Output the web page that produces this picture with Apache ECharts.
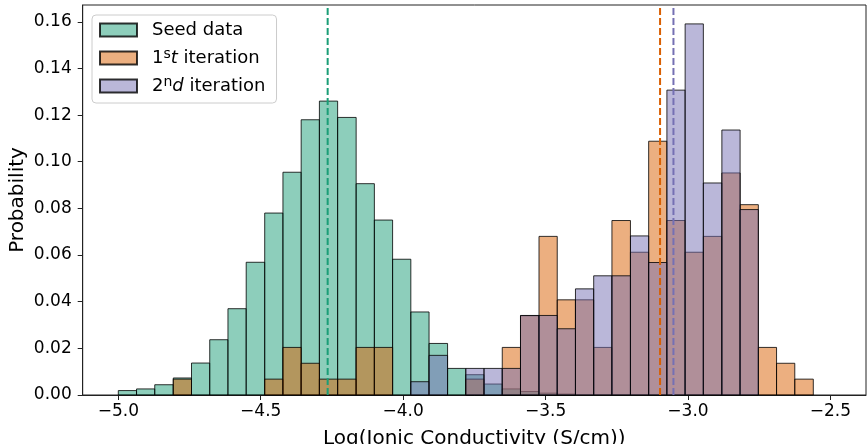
<!DOCTYPE html>
<html>
<head>
<meta charset="utf-8">
<title>Ionic conductivity histogram</title>
<script src="https://cdn.jsdelivr.net/npm/echarts@6/dist/echarts.min.js"></script>
<style>
html, body { margin: 0; padding: 0; background: #fff; }
#chart { width: 867px; height: 444px; }
</style>
</head>
<body>
<div id="chart"></div>
<script>
// shared bin edges (log S/cm), 38 bins
var binEdges = [
    -5.000, -4.936, -4.872, -4.807, -4.743, -4.679, -4.615, -4.551, -4.486, -4.422,
    -4.358, -4.294, -4.230, -4.165, -4.101, -4.037, -3.973, -3.909, -3.844, -3.780,
    -3.716, -3.652, -3.588, -3.523, -3.459, -3.395, -3.331, -3.267, -3.202, -3.138,
    -3.074, -3.010, -2.946, -2.881, -2.817, -2.753, -2.689, -2.625, -2.560
];

// probability per bin
var seedProb = [
    0.0019, 0.0026, 0.0044, 0.0073, 0.0137, 0.0237, 0.0370, 0.0569, 0.0780, 0.0955,
    0.1180, 0.1260, 0.1190, 0.0906, 0.0750, 0.0582, 0.0356, 0.0221, 0.0114, 0.0087,
    0.0047, 0.0026, 0.0015, 0.0008, 0.0004, 0, 0, 0, 0, 0,
    0, 0, 0, 0, 0, 0, 0, 0
];
var firstProb = [
    0, 0, 0, 0.0068, 0, 0, 0, 0, 0.0068, 0.0204,
    0.0136, 0.0068, 0.0068, 0.0204, 0.0204, 0, 0, 0, 0, 0.0068,
    0, 0.0204, 0.0340, 0.0680, 0.0408, 0.0408, 0.0204, 0.0748, 0.0612, 0.1088,
    0.0748, 0.0612, 0.0680, 0.0952, 0.0816, 0.0204, 0.0136, 0.0068
];
var secondProb = [
    0, 0, 0, 0, 0, 0, 0, 0, 0, 0,
    0, 0, 0, 0, 0, 0, 0.0057, 0.0170, 0, 0.0114,
    0.0114, 0.0114, 0.0341, 0.0341, 0.0284, 0.0455, 0.0511, 0.0511, 0.0682, 0.0568,
    0.1307, 0.1591, 0.0909, 0.1136, 0.0795, 0, 0, 0
];

// dashed lines (means)
var seedMean = -4.265;
var firstMean = -3.098;
var secondMean = -3.051;

var xTicks = [-5.0, -4.5, -4.0, -3.5, -3.0, -2.5];
var yTicks = [0, 0.02, 0.04, 0.06, 0.08, 0.10, 0.12, 0.14, 0.16];

var font = 'DejaVu Sans';
var edgeColor = 'rgba(0,0,0,0.8)';
var yMax = 0.1672;

var legendText = {
    'Seed data': 'Seed data',
    '1st iteration': '1{sup|s}{it|t} iteration',
    '2nd iteration': '2{sup|n}{it|d} iteration'
};

function histData(values) {
    var out = [];
    for (var i = 0; i < values.length; i++) {
        if (values[i] > 0) {
            out.push([binEdges[i], binEdges[i + 1], values[i]]);
        }
    }
    return out;
}

function renderBin(params, api) {
    var topLeft = api.coord([api.value(0), api.value(2)]);
    var bottomRight = api.coord([api.value(1), 0]);
    return {
        type: 'rect',
        shape: {
            x: topLeft[0],
            y: topLeft[1],
            width: bottomRight[0] - topLeft[0],
            height: bottomRight[1] - topLeft[1]
        },
        style: { fill: api.visual('color'), stroke: edgeColor, lineWidth: 1 }
    };
}

function histSeries(name, values, color) {
    return {
        name: name,
        type: 'custom',
        renderItem: renderBin,
        data: histData(values),
        encode: { x: [0, 1], y: 2 },
        itemStyle: { color: color, borderColor: edgeColor, borderWidth: 1 }
    };
}

function meanLine(value, color) {
    return {
        type: 'line',
        data: [[value, 0], [value, yMax]],
        symbol: 'none',
        silent: true,
        z: 5,
        lineStyle: { color: color, width: 2, type: [7, 3] }
    };
}

var chart = echarts.init(document.getElementById('chart'));

var option = {
    animation: false,
    grid: {
        left: 82.7,
        right: 1,
        top: 5,
        bottom: 49,
        show: true,
        borderColor: '#222',
        borderWidth: 1,
        outerBoundsMode: 'none'
    },
    legend: {
        data: ['Seed data', '1st iteration', '2nd iteration'],
        orient: 'vertical',
        left: 92,
        top: 15,
        padding: [4, 11, 6, 7],
        itemWidth: 37,
        itemHeight: 13,
        itemGap: 6,
        icon: 'rect',
        backgroundColor: 'rgba(255,255,255,0.8)',
        borderColor: '#cccccc',
        borderWidth: 1,
        borderRadius: 4,
        formatter: function (name) {
            return legendText[name];
        },
        textStyle: {
            fontFamily: font,
            fontSize: 18,
            color: '#000',
            lineHeight: 22,
            padding: [0, 0, 0, 10],
            rich: {
                sup: { fontFamily: font, fontSize: 14, lineHeight: 14, verticalAlign: 'top', color: '#000' },
                it: { fontFamily: font, fontSize: 18, fontStyle: 'italic', color: '#000' }
            }
        }
    },
    xAxis: {
        type: 'value',
        min: -5.125,
        max: -2.375,
        name: 'Log(Ionic Conductivity (S/cm))',
        nameLocation: 'middle',
        nameGap: 34,
        nameMoveOverlap: false,
        nameTextStyle: { fontFamily: font, fontSize: 20, color: '#000' },
        axisLine: { show: true, onZero: false, lineStyle: { color: '#222', width: 1 } },
        axisTick: { show: true, length: 5, customValues: xTicks, lineStyle: { color: '#222', width: 1 } },
        axisLabel: {
            customValues: xTicks,
            margin: 8,
            fontFamily: font,
            fontSize: 17,
            color: '#000',
            formatter: function (v) {
                return (v < 0 ? '\u2212' : '') + Math.abs(v).toFixed(1);
            }
        },
        splitLine: { show: false }
    },
    yAxis: {
        type: 'value',
        min: 0,
        max: yMax,
        name: 'Probability',
        nameLocation: 'middle',
        nameGap: 55,
        nameMoveOverlap: false,
        nameTextStyle: { fontFamily: font, fontSize: 20, color: '#000' },
        axisLine: { show: true, lineStyle: { color: '#222', width: 1 } },
        axisTick: { show: true, length: 5, customValues: yTicks, lineStyle: { color: '#222', width: 1 } },
        axisLabel: {
            customValues: yTicks,
            margin: 11,
            fontFamily: font,
            fontSize: 17,
            color: '#000',
            formatter: function (v) {
                return v.toFixed(2);
            }
        },
        splitLine: { show: false }
    },
    series: [
        histSeries('Seed data', seedProb, 'rgba(27,158,119,0.5)'),
        histSeries('1st iteration', firstProb, 'rgba(217,95,2,0.5)'),
        histSeries('2nd iteration', secondProb, 'rgba(117,112,179,0.5)'),
        meanLine(seedMean, '#1b9e77'),
        meanLine(firstMean, '#d95f02'),
        meanLine(secondMean, '#7570b3')
    ]
};

chart.setOption(option);
</script>
</body>
</html>
